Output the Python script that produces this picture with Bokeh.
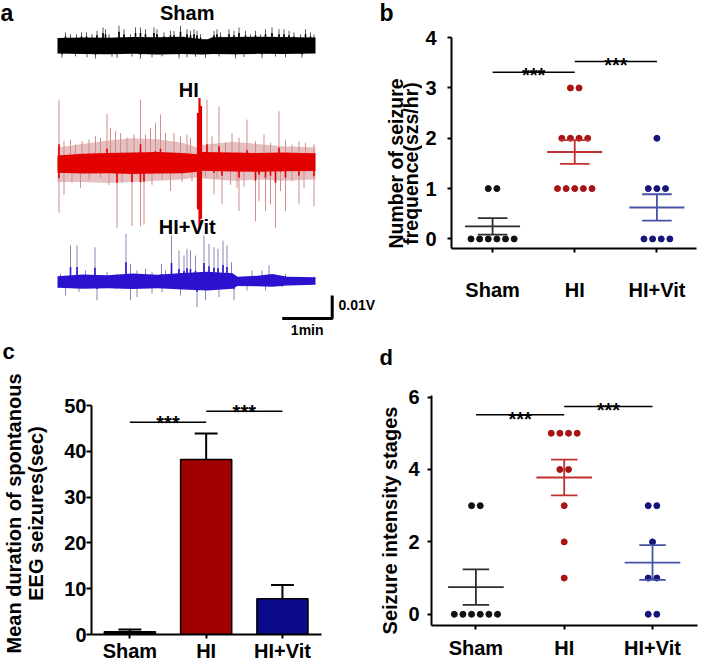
import math
import numpy as np
from bokeh.plotting import figure
from bokeh.layouts import column, row
from bokeh.models import Range1d, FixedTicker, Label
from bokeh.embed import file_html
from bokeh.resources import INLINE

# ------------------------------------------------------------------ data
groups = ["Sham", "HI", "HI+Vit"]

# b: number of seizures (szs/hr), individual animals
freq_sham = [1, 1, 0, 0, 0, 0, 0, 0]
freq_hi = [3, 3, 2, 2, 2, 2, 1, 1, 1, 1, 1]
freq_vit = [2, 1, 1, 1, 0, 0, 0, 0]

# c: mean duration of spontaneous EEG seizures (sec), mean and SEM
dur_mean = [0.6, 38.2, 7.8]
dur_sem = [0.5, 5.7, 3.0]

# d: seizure intensity stages, individual animals
stage_sham = [3, 3, 0, 0, 0, 0, 0, 0]
stage_hi = [5, 5, 5, 5, 4, 4, 3, 2, 1]
stage_vit = [3, 3, 2, 1, 1, 0, 0]

# a: EEG traces, time in min, amplitude in mV
sham_env_t = [0, 0.5, 1.0, 1.5, 2.0, 2.5, 2.9, 3.0, 3.1, 3.5, 4.0, 4.5, 5.16]
sham_env_hi = [3.4, 3.6, 3.5, 3.8, 3.7, 3.9, 2.9, 2.9, 3.7, 3.8, 3.9, 3.8, 3.6]
sham_env_lo = [-3.4, -3.6, -3.7, -3.5, -3.8, -3.6, -3.8, -3.7, -3.6, -3.7, -3.5, -3.6, -3.3]
sham_up_t = [0.16, 0.26, 0.38, 0.48, 0.58, 0.69, 0.79, 0.91, 0.96, 1.03, 1.23, 1.33, 1.46, 1.56, 1.66,
             1.76, 1.93, 1.99, 2.13, 2.26, 2.33, 2.46, 2.59, 2.66, 2.73, 2.79, 2.86, 3.13, 3.19, 3.26,
             3.43, 3.53, 3.63, 3.76, 3.86, 3.96, 4.06, 4.16, 4.29, 4.43, 4.53, 4.63, 4.73, 4.86, 4.96,
             5.06, 5.13]
sham_up_v = [5.8, 5.0, 5.0, 5.8, 5.8, 5.0, 6.5, 8.0, 7.2, 5.0, 8.7, 7.2, 5.0, 8.0, 8.0,
             7.2, 8.0, 7.2, 5.8, 6.5, 6.5, 8.7, 7.2, 6.5, 7.2, 6.5, 5.0, 6.5, 7.2, 5.8,
             7.2, 6.5, 8.0, 6.5, 5.0, 6.5, 5.0, 7.2, 8.0, 7.2, 7.2, 6.5, 5.8, 5.0, 7.2,
             5.8, 5.0]
sham_dn_t = [0.09, 0.36, 0.59, 0.76, 1.09, 1.19, 1.49, 1.66, 1.89, 2.09, 2.43, 2.59, 2.76, 2.96,
             3.23, 3.56, 3.73, 4.09, 4.36, 4.56, 4.89]
sham_dn_v = [-5.2, -4.6, -5.0, -5.5, -4.8, -5.3, -4.7, -5.6, -5.0, -4.6, -5.4, -5.0, -4.8, -5.2,
             -4.6, -5.5, -4.9, -5.3, -4.7, -5.0, -5.2]

hi_env_t = [0, 0.5, 1.0, 1.5, 2.0, 2.5, 2.8, 2.9, 3.5, 4.0, 4.5, 5.16]
hi_env_hi = [3.5, 4.2, 4.6, 4.8, 5.0, 4.6, 4.0, 5.0, 4.8, 4.6, 4.8, 4.5]
hi_env_lo = [-4.0, -4.4, -4.2, -4.6, -4.4, -4.2, -3.6, -3.2, -3.5, -3.6, -3.4, -3.3]
hi_halo_hi = [7.0, 8.5, 10.0, 11.0, 10.5, 9.0, 7.0, 8.0, 9.5, 8.5, 7.5, 7.0]
hi_halo_lo = [-8.0, -8.0, -8.5, -8.0, -7.5, -7.0, -6.0, -6.5, -7.5, -7.0, -7.5, -7.0]
hi_up_t = [0.03, 0.13, 0.26, 0.36, 0.49, 0.63, 0.76, 0.86, 0.99, 1.06, 1.16, 1.26, 1.39, 1.53,
           1.66, 1.76, 1.86, 1.96, 2.06, 2.16, 2.33, 2.46, 2.59, 2.66, 2.99, 3.09, 3.23, 3.36,
           3.49, 3.63, 3.79, 3.96, 4.13, 4.26, 4.43, 4.56, 4.69, 4.83, 4.96, 5.13]
hi_up_v = [27.8, 9.7, 10.4, 8.3, 9.7, 10.4, 11.9, 11.2, 21.6, 15.5, 14.0, 13.3, 11.2, 12.6,
           27.8, 12.6, 15.5, 17.7, 21.3, 13.3, 13.3, 11.9, 12.6, 11.2, 27.8, 11.9, 24.9, 9.0,
           13.3, 11.2, 19.1, 9.7, 12.6, 9.0, 22.7, 10.4, 8.3, 9.7, 9.0, 8.3]
hi_dn_t = [0.03, 0.13, 0.29, 0.46, 0.63, 0.86, 1.03, 1.19, 1.29, 1.49, 1.66, 1.73, 1.89, 2.09,
           2.26, 2.49, 2.69, 2.96, 3.13, 3.19, 3.29, 3.46, 3.59, 3.63, 3.73, 3.96, 4.03, 4.16,
           4.26, 4.36, 4.46, 4.56, 4.69, 4.83, 4.93, 5.13]
hi_dn_v = [-21.4, -13.5, -8.4, -10.6, -7.0, -6.4, -9.3, -28.0, -8.4, -27.2, -27.2, -26.5, -9.3,
           -7.0, -12.0, -8.0, -7.7, -6.0, -13.5, -6.5, -17.8, -9.3, -10.6, -20.7, -10.0, -25.1,
           -16.4, -20.7, -17.8, -28.0, -12.0, -20.7, -7.7, -17.8, -10.6, -18.6]
hi_burst_t = [2.81, 2.84, 2.87]
hi_burst_up = [22.0, 28.5, 25.0]
hi_burst_dn = [-20.0, -28.5, -24.0]

vit_env_t = [0, 0.5, 1.0, 1.5, 2.0, 2.5, 3.0, 3.5, 3.6, 4.0, 4.3, 4.6, 5.16]
vit_env_hi = [2.2, 3.0, 2.6, 3.4, 2.8, 3.6, 4.2, 3.5, 2.0, 2.4, 3.2, 2.0, 1.8]
vit_env_lo = [-2.8, -3.2, -3.0, -3.4, -3.0, -3.6, -4.0, -3.2, -2.0, -2.2, -2.4, -1.8, -1.5]
vit_up_t = [0.06, 0.26, 0.39, 0.56, 0.75, 0.99, 1.19, 1.37, 1.46, 1.59, 1.76, 1.89, 2.08, 2.16,
            2.28, 2.43, 2.53, 2.59, 2.66, 2.76, 2.93, 3.03, 3.13, 3.21, 3.31, 3.39, 3.48, 3.89,
            4.09, 4.23, 4.56, 5.13]
vit_up_v = [3.3, 15.6, 15.6, 4.7, 14.8, 4.0, 3.3, 20.7, 7.6, 4.7, 5.4, 4.0, 7.6, 4.7,
            19.9, 13.4, 11.2, 14.1, 13.4, 11.2, 19.9, 16.3, 14.8, 14.1, 17.7, 15.6, 8.3, 4.7,
            4.7, 6.9, 3.3, 2.0]
vit_dn_t = [0.16, 0.43, 0.79, 1.16, 1.46, 1.59, 1.89, 2.09, 2.33, 2.46, 2.79, 2.96, 3.23, 3.53,
            3.79, 4.16, 4.49]
vit_dn_v = [-6.2, -4.7, -8.3, -3.3, -8.3, -6.9, -5.4, -4.7, -3.3, -6.2, -11.3, -8.3, -6.9, -8.3,
            -4.0, -4.0, -2.5]

scale_min = 1.0    # 1 min
scale_mv = 10.0    # 0.01 V

# ------------------------------------------------------------------ layout
WA, WB, H1 = 422, 287, 372      # top row: a | b
WC, WD, H2 = 405, 304, 294      # bottom row: c | d
FONT = "Liberation Sans"
FS = "20px"
dot_colors = ["#111111", "#a81414", "#15157a"]
line_colors = ["#2e2e2e", "#c03030", "#4552a6"]
bar_colors = ["#000000", "#a00000", "#0a0a8a"]


def panel(w, h, ox, oy, frame_ref, xr0, yr0, ppx, ppy, axes=True):
    """frame_ref: frame box in page pixels; xr0/yr0: data value at frame left/bottom;
    ppx/ppy: pixels per data unit."""
    fx0, fx1, fy0, fy1 = frame_ref
    L = round(fx0 - ox)
    R = round(w - (fx1 - ox))
    T = round(fy0 - oy)
    B = round(h - (fy1 - oy))
    fw, fh = w - L - R, h - T - B
    xr = (xr0, xr0 + fw / ppx)
    yr = (yr0, yr0 + fh / ppy)
    kw = dict(width=w, height=h, x_range=Range1d(*xr), y_range=Range1d(*yr),
              output_backend="svg", toolbar_location=None,
              min_border_left=L, min_border_right=R, min_border_top=T, min_border_bottom=B)
    if not axes:
        kw.update(x_axis_location=None, y_axis_location=None)
    p = figure(**kw)
    p.grid.visible = False
    p.outline_line_color = None
    p.background_fill_color = "white"
    p.border_fill_color = "white"

    def ref(rx, ry):
        lx, ly = rx - ox, ry - oy
        return (xr[0] + (lx - L) / fw * (xr[1] - xr[0]),
                yr[1] - (ly - T) / fh * (yr[1] - yr[0]))
    return p, ref


def label(p, ref, rx, ry, text, size, align="center", baseline="middle", angle=0.0):
    x, y = ref(rx, ry)
    p.add_layout(Label(x=x, y=y, text=text, text_font=FONT, angle=angle,
                       text_font_style="bold", text_font_size=size, text_color="black",
                       text_align=align, text_baseline=baseline))


def style_axes(p, yticks, xstand, ystand, xbounds=None, ybounds=None):
    for ax in (p.xaxis[0], p.yaxis[0]):
        ax.axis_line_width = 2
        ax.axis_line_color = "black"
        ax.major_tick_line_width = 2
        ax.major_tick_line_color = "black"
        ax.major_tick_in = 0
        ax.major_tick_out = 4
        ax.minor_tick_line_color = None
        ax.major_label_text_font = FONT
        ax.major_label_text_font_style = "bold"
        ax.major_label_text_font_size = FS
        ax.major_label_text_color = "black"
    p.xaxis.ticker = FixedTicker(ticks=[0, 1, 2])
    p.xaxis.major_label_overrides = {i: g for i, g in enumerate(groups)}
    p.xaxis.major_label_standoff = xstand
    p.yaxis.ticker = FixedTicker(ticks=yticks)
    p.yaxis.major_label_standoff = ystand
    if xbounds is not None:
        p.xaxis.bounds = xbounds
    if ybounds is not None:
        p.yaxis.bounds = ybounds


def swarm(vals, spacing):
    counts, seen, xs = {}, {}, []
    for v in vals:
        counts[v] = counts.get(v, 0) + 1
    for v in vals:
        n, i = counts[v], seen.get(v, 0)
        seen[v] = i + 1
        xs.append((i - (n - 1) / 2) * spacing)
    return xs


def scatter_panel(p, sets, spacing, half, cap):
    for gi, vals in enumerate(sets):
        offs = swarm(vals, spacing)
        p.scatter(x=[gi + o for o in offs], y=vals, size=6, color=dot_colors[gi])
        m = float(np.mean(vals))
        se = float(np.std(vals, ddof=1) / math.sqrt(len(vals)))
        c = line_colors[gi]
        p.segment(x0=[gi - half, gi - cap, gi - cap, gi], y0=[m, m + se, m - se, m - se],
                  x1=[gi + half, gi + cap, gi + cap, gi], y1=[m, m + se, m - se, m + se],
                  line_color=c, line_width=1.8)


def sig(p, ref, ly1, ly2, sy1, sy2, size="20px"):
    _, y1 = ref(0, ly1)
    _, y2 = ref(0, ly2)
    p.segment(x0=[0, 1], x1=[1, 2], y0=[y1, y2], y1=[y1, y2], line_color="black", line_width=1.5)
    for xi, sy in ((0.5, sy1), (1.5, sy2)):
        _, yy = ref(0, sy)
        p.add_layout(Label(x=xi, y=yy, text="***", text_font=FONT, text_font_style="bold",
                           text_font_size=size, text_color="black", text_align="center",
                           text_baseline="alphabetic"))


# ------------------------------------------------------------------ panel a (full frame)
pa, ra = panel(WA, H1, 0, 0, (0, WA, 0, H1), -57 / 50, -H1 / 2.3, 50, 2.3, axes=False)


def trace(off, env_t, lo, hi, up_t, up_v, dn_t, dn_v, core, spike, halo=None, base=0.0):
    if halo is not None:
        pa.varea(x=env_t, y1=[off + v for v in halo[0]], y2=[off + v for v in halo[1]],
                 fill_color=spike, fill_alpha=0.55)
    for ts, vs in ((up_t, up_v), (dn_t, dn_v)):
        pa.segment(x0=ts, x1=ts, y0=[off] * len(ts), y1=[off + v for v in vs],
                   line_color=spike, line_width=1)
        if base > 0:
            pa.segment(x0=ts, x1=ts, y0=[off] * len(ts), y1=[off + base * v for v in vs],
                       line_color=core, line_width=1.6)
    pa.varea(x=env_t, y1=[off + v for v in lo], y2=[off + v for v in hi], fill_color=core)


sham_off = ra(0, 45.3)[1]
hi_off = ra(0, 163.0)[1]
vit_off = ra(0, 280.8)[1]
trace(sham_off, sham_env_t, sham_env_lo, sham_env_hi, sham_up_t, sham_up_v, sham_dn_t, sham_dn_v,
      "#000000", "#5a5a5a", base=0.7)
trace(hi_off, hi_env_t, hi_env_lo, hi_env_hi, hi_up_t, hi_up_v, hi_dn_t, hi_dn_v,
      "#e30000", "#d28c8c", halo=(hi_halo_lo, hi_halo_hi), base=0.3)
pa.segment(x0=hi_burst_t, x1=hi_burst_t, y0=[hi_off + v for v in hi_burst_dn],
           y1=[hi_off + v for v in hi_burst_up], line_color="#e30000", line_width=2.2)
trace(vit_off, vit_env_t, vit_env_lo, vit_env_hi, vit_up_t, vit_up_v, vit_dn_t, vit_dn_v,
      "#2a12cf", "#8686b6", base=0.4)

# scale bar
sx, sy = ra(331.7, 318.0)
pa.line(x=[sx - scale_min, sx, sx], y=[sy, sy, sy + scale_mv], line_color="black", line_width=3)
label(pa, ra, 338, 304, "0.01V", "14px", align="left")
label(pa, ra, 306.7, 329, "1min", "14px")
label(pa, ra, 0, 12, "a", "23px", align="left")
label(pa, ra, 186.7, 12.5, "Sham", FS)
label(pa, ra, 188.3, 89, "HI", FS)
label(pa, ra, 186.7, 226.7, "HI+Vit", FS)
# panel letters and b's y title live in this full frame
label(pa, ra, 379, 12.5, "b", "23px", align="left")
label(pa, ra, 2, 351, "c", "22px", align="left")
label(pa, ra, 379, 357, "d", "22px", align="left")
label(pa, ra, 395, 163, "Number of seizure", "19.5px", angle=math.pi / 2)
label(pa, ra, 410, 163, "frequence(szs/hr)", "19.5px", angle=math.pi / 2)

# ------------------------------------------------------------------ panel b
pb, rb = panel(WB, H1, WA, 0, (449.7, 695.7, 37, 248), -0.5, -0.19, 82.5, 50.33)
style_axes(pb, [0, 1, 2, 3, 4], 26, 11)
scatter_panel(pb, [freq_sham, freq_hi, freq_vit], 0.105, 0.335, 0.18)
sig(pb, rb, 71.7, 61.0, 74.5, 64.8)

# ------------------------------------------------------------------ panel c
pc, rc = panel(WC, H2, 0, H1, (86, WC, 392, 634), -0.503, 0, 77.5, 4.58)
style_axes(pc, [0, 10, 20, 30, 40, 50], 1, 0, xbounds=(-0.503, 2.516), ybounds=(0, 50))
pc.yaxis.major_tick_out = 5
pc.yaxis.axis_label = "Mean duration of spontanous\nEEG seizures(sec)"
pc.yaxis.axis_label_text_font = FONT
pc.yaxis.axis_label_text_font_style = "bold"
pc.yaxis.axis_label_text_font_size = FS
pc.yaxis.axis_label_text_color = "black"
pc.yaxis.axis_label_standoff = 14
pc.yaxis.axis_label_text_line_height = 1.0
pc.vbar(x=[0, 1, 2], top=dur_mean, width=0.67, fill_color=bar_colors,
        line_color="black", line_width=1.5)
tops = [m + s for m, s in zip(dur_mean, dur_sem)]
pc.segment(x0=[0, 1, 2], x1=[0, 1, 2], y0=dur_mean, y1=tops, line_color="black", line_width=2)
pc.segment(x0=[-0.15, 0.85, 1.85], x1=[0.15, 1.15, 2.15], y0=tops, y1=tops,
           line_color="black", line_width=2)
sig(pc, rc, 421.7, 410.7, 422.9, 411.2)
# d's y title sits in c's (widened) frame
label(pc, rc, 389, 520, "Seizure intensity stages", FS, angle=math.pi / 2)

# ------------------------------------------------------------------ panel d
pd_, rd = panel(WD, H2, WC, H1, (431.3, 697, 385, 625), -0.503, -0.31, 88.3, 36.2)
style_axes(pd_, [0, 2, 4, 6], 7, 8, ybounds=(-0.31, 6.04))
scatter_panel(pd_, [stage_sham, stage_hi, stage_vit], 0.098, 0.315, 0.15)
sig(pd_, rd, 414.3, 406.0, 418.2, 409.2)

layout = column(row(column(pa), column(pb)), row(column(pc), column(pd_)))
open("out.html", "w").write(file_html(layout, INLINE))
